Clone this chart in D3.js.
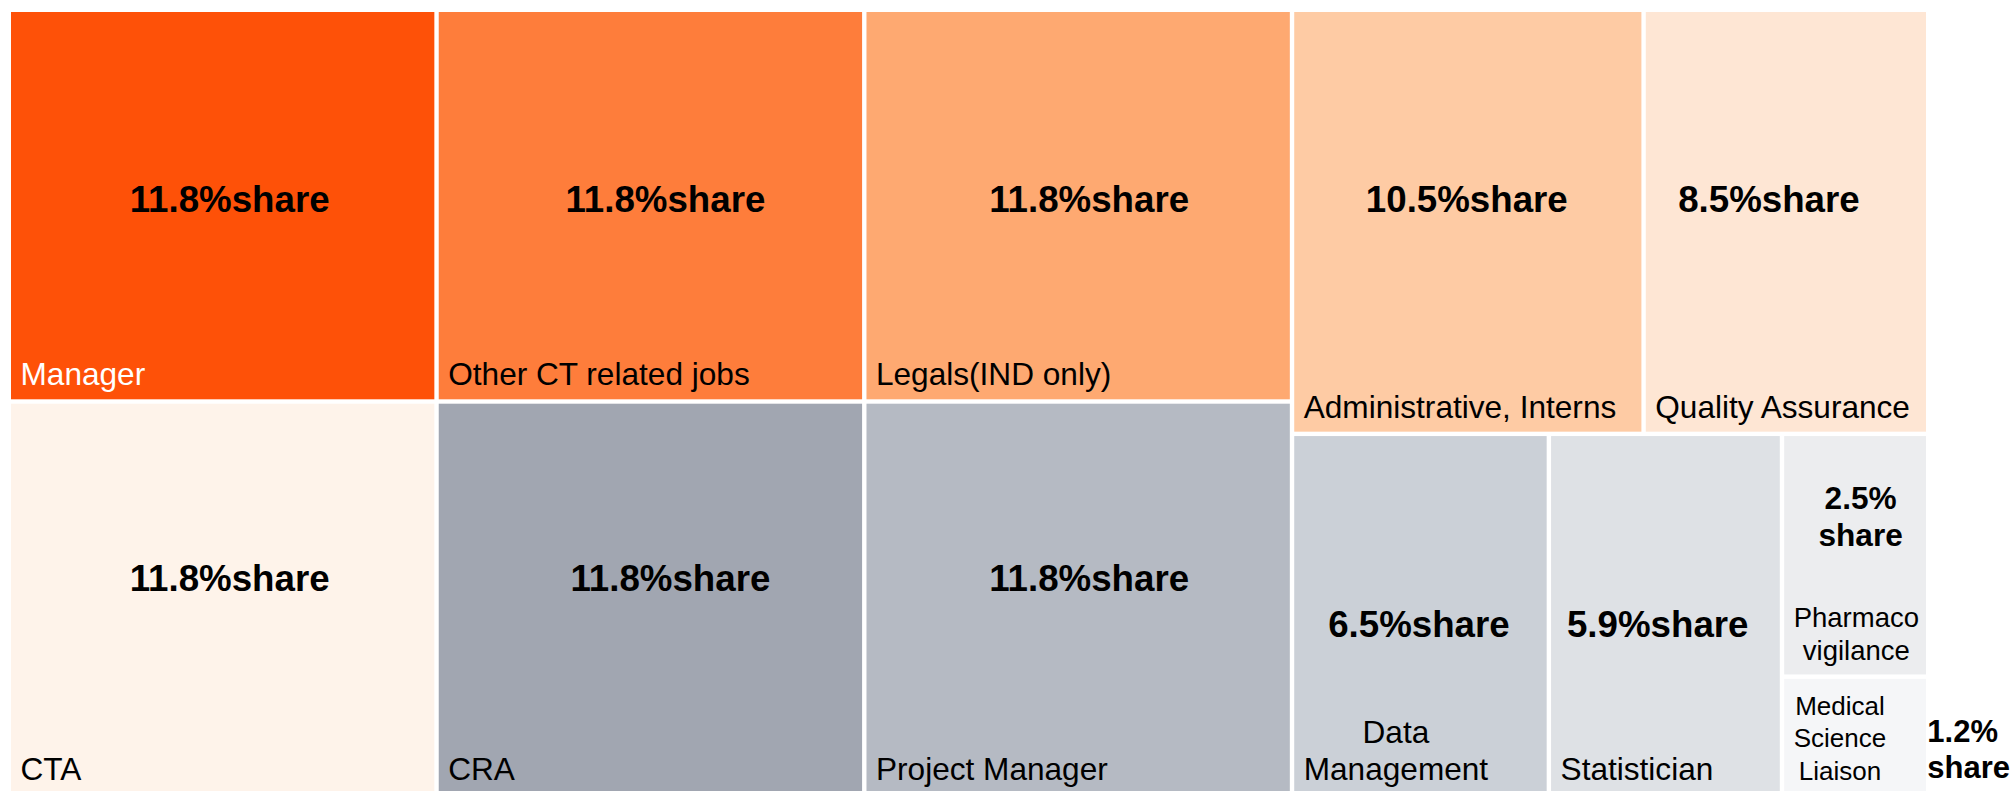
<!DOCTYPE html>
<html>
<head>
<meta charset="utf-8">
<script src="https://cdn.jsdelivr.net/npm/d3@7"></script>
<style>
  html, body { margin: 0; padding: 0; background: #ffffff; overflow: hidden; }
  svg { display: block; }
  text { font-family: "Liberation Sans", Arial, Helvetica, sans-serif; }
</style>
</head>
<body>
<svg id="chart" width="2013" height="791"></svg>
<script>
// ---- data -------------------------------------------------------------
const categories = [
  "Manager", "CTA", "Other CT related jobs", "CRA", "Legals(IND only)", "Project Manager",
  "Administrative, Interns", "Quality Assurance", "Data Management", "Statistician",
  "Pharmaco vigilance", "Medical Science Liaison"
];
const shares = [11.8, 11.8, 11.8, 11.8, 11.8, 11.8, 10.5, 8.5, 6.5, 5.9, 2.5, 1.2];
// line breaks used for the category names inside the tiles
const nameLines = [
  ["Manager"], ["CTA"], ["Other CT related jobs"], ["CRA"], ["Legals(IND only)"], ["Project Manager"],
  ["Administrative, Interns"], ["Quality Assurance"], ["Data", "Management"], ["Statistician"],
  ["Pharmaco", "vigilance"], ["Medical", "Science", "Liaison"]
];
const shareWord = "share";

// ---- styling ----------------------------------------------------------
const fills = [
  "#FE5108", "#FEF3EA", "#FE7D3B", "#A1A6B1", "#FEA971", "#B5BAC3",
  "#FECBA4", "#FEE6D4", "#CBD0D7", "#DEE1E5", "#ECEDEF", "#F5F6F8"
];
const nameColors = ["#ffffff", "#000000", "#000000", "#000000", "#000000", "#000000",
                    "#000000", "#000000", "#000000", "#000000", "#000000", "#000000"];
const nameSizes   = [31.6, 31.6, 31.6, 31.6, 31.6, 31.6, 31.6, 31.6, 31.6, 31.6, 27.5, 26];
const nameLeading = [36.6, 36.6, 36.6, 36.6, 36.6, 36.6, 36.6, 36.6, 36.6, 36.6, 33.3, 32.5];
const valueSizes  = [36.7, 36.7, 36.7, 36.7, 36.7, 36.7, 36.7, 36.7, 36.7, 36.7, 31.6, 31];
// value label offset from the tile centre: [dx, baseline dy]
const valueNudge = [
  [7, 6.4], [7, -6.3], [15, 6.4], [20, -6.3], [11, 6.4], [11, -6.3],
  [-1, -9.9], [-17, -9.9], [-1.5, 23], [-7.7, 23], [5.5, -46], [0, 6.7]
];
// small tiles put "share" on a second line; the smallest one labels outside its tile
const valueStacked = [false, false, false, false, false, false, false, false, false, false, true, true];
const valueOutside = [false, false, false, false, false, false, false, false, false, false, false, true];

// ---- layout -----------------------------------------------------------
const plotLeft = 11, plotTop = 12, plotWidth = 1915, plotHeight = 779;

const rows = categories.map((name, i) => ({
  name, share: shares[i], lines: nameLines[i], idx: i
}));

const root = d3.hierarchy({ children: rows })
  .sum(d => d.share || 0);

d3.treemap()
  .tile(d3.treemapSquarify.ratio(1))
  .size([plotWidth, plotHeight])
  .paddingInner(4.4)
  .round(false)(root);

const svg = d3.select("#chart");
const g = svg.append("g").attr("transform", `translate(${plotLeft},${plotTop})`);

const leaves = g.selectAll("g.tile")
  .data(root.leaves())
  .join("g")
  .attr("class", "tile");

leaves.append("rect")
  .attr("x", d => d.x0)
  .attr("y", d => d.y0)
  .attr("width", d => d.x1 - d.x0)
  .attr("height", d => d.y1 - d.y0)
  .attr("fill", d => fills[d.data.idx]);

// category names: a block anchored bottom-left, lines centred within the block
leaves.each(function (d) {
  const i = d.data.idx;
  const sel = d3.select(this);
  const size = nameSizes[i], lead = nameLeading[i];
  const n = d.data.lines.length;
  const bottomPad = d.y1 >= plotHeight - 0.5 ? 11.5 : 14;
  const text = sel.append("text")
    .attr("class", "name")
    .attr("font-size", size)
    .attr("fill", nameColors[i])
    .attr("text-anchor", "middle");
  const spans = d.data.lines.map((ln, k) =>
    text.append("tspan")
      .attr("y", d.y1 - bottomPad - (n - 1 - k) * lead)
      .text(ln));
  const blockW = d3.max(spans, s => s.node().getComputedTextLength());
  spans.forEach(s => s.attr("x", d.x0 + 9.5 + blockW / 2));
});

// share values
leaves.each(function (d) {
  const i = d.data.idx;
  const sel = d3.select(this);
  const cx = (d.x0 + d.x1) / 2, cy = (d.y0 + d.y1) / 2;
  const [dx, dy] = valueNudge[i];
  const pct = `${d3.format(".1f")(d.data.share)}%`;
  const text = sel.append("text")
    .attr("class", "value")
    .attr("font-size", valueSizes[i])
    .attr("font-weight", "bold")
    .attr("fill", "#000000");
  const x = valueOutside[i] ? d.x1 + 1.3 : cx + dx;
  text.attr("text-anchor", valueOutside[i] ? "start" : "middle");
  if (valueStacked[i]) {
    const lead = valueSizes[i] * 1.17;
    text.append("tspan").attr("x", x).attr("y", cy + dy).text(pct);
    text.append("tspan").attr("x", x).attr("y", cy + dy + lead).text(shareWord);
  } else {
    text.attr("x", x).attr("y", cy + dy).text(pct + shareWord);
  }
});
</script>
</body>
</html>
